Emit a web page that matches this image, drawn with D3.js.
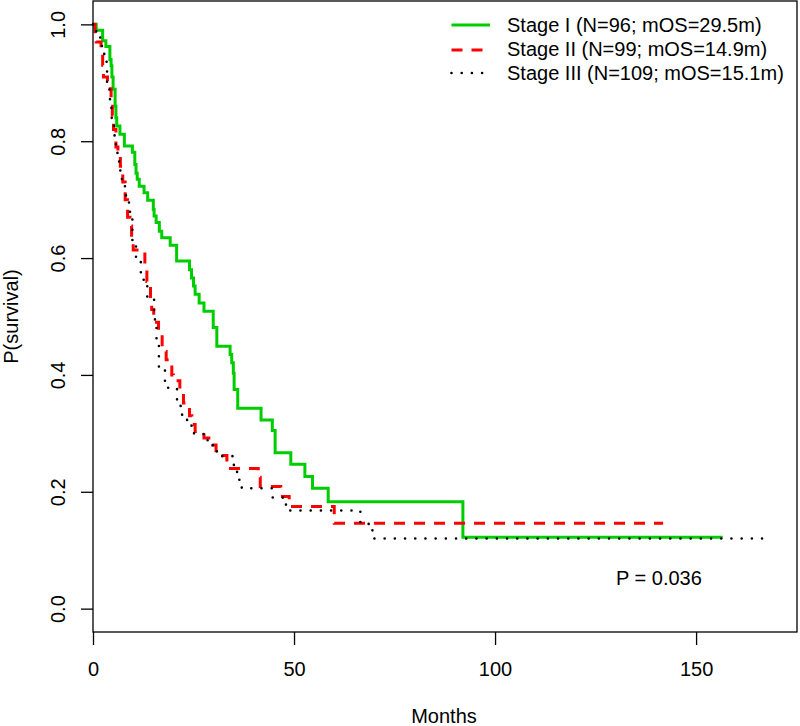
<!DOCTYPE html>
<html>
<head>
<meta charset="utf-8">
<script src="https://cdn.jsdelivr.net/npm/d3@7/dist/d3.min.js"></script>
<style>
  html, body { margin: 0; padding: 0; background: #fff; }
  svg { display: block; }
  text { font-family: "Liberation Sans", Arial, Helvetica, sans-serif; fill: #000; }
</style>
</head>
<body>
<svg id="chart" width="800" height="726"></svg>
<script>
// ---- Data ----
const seriesNames = ["Stage I (N=96; mOS=29.5m)", "Stage II (N=99; mOS=14.9m)", "Stage III (N=109; mOS=15.1m)"];

const stage1Times = [0, 0.8, 2.4, 3.2, 4.2, 4.5, 4.7, 5.0, 5.5, 5.7, 5.9, 6.7, 7.8, 9.8, 10.4, 10.7, 11.0, 11.5, 12.7, 13.6, 15.0, 15.2, 15.7, 16.5, 17.1, 19.2, 20.8, 24.0, 24.5, 25.0, 25.4, 26.4, 27.6, 29.9, 30.8, 34.1, 34.5, 34.9, 35.1, 36.0, 41.8, 44.6, 45.3, 49.2, 52.7, 54.6, 58.5, 92.0, 156.6];
const stage1Surv  = [1, 0.99, 0.972, 0.962, 0.94, 0.929, 0.91, 0.889, 0.86, 0.84, 0.826, 0.812, 0.792, 0.781, 0.76, 0.745, 0.735, 0.723, 0.712, 0.699, 0.683, 0.672, 0.661, 0.646, 0.635, 0.622, 0.595, 0.58, 0.566, 0.552, 0.538, 0.523, 0.509, 0.481, 0.449, 0.435, 0.421, 0.403, 0.375, 0.343, 0.323, 0.305, 0.267, 0.247, 0.226, 0.206, 0.183, 0.122, 0.122];

const stage2Times = [0, 0.5, 0.8, 2.0, 2.4, 2.6, 3.6, 4.5, 4.8, 5.1, 5.7, 6.2, 6.8, 7.4, 8.0, 8.6, 9.2, 9.6, 10.0, 12.9, 13.4, 13.8, 14.3, 14.6, 15.1, 16.3, 17.2, 18.2, 19.6, 20.0, 21.6, 22.5, 24.0, 24.6, 25.4, 27.6, 29.8, 30.6, 33.3, 41.1, 41.6, 46.7, 48.8, 60.0, 141.8];
const stage2Surv  = [1, 0.98, 0.97, 0.96, 0.93, 0.91, 0.89, 0.86, 0.845, 0.82, 0.79, 0.775, 0.757, 0.73, 0.70, 0.67, 0.655, 0.632, 0.614, 0.585, 0.56, 0.551, 0.525, 0.512, 0.49, 0.474, 0.44, 0.426, 0.40, 0.39, 0.365, 0.352, 0.33, 0.315, 0.303, 0.292, 0.28, 0.262, 0.24, 0.225, 0.209, 0.192, 0.175, 0.146, 0.146];

const stage3Times = [0, 0.3, 0.8, 1.8, 2.8, 3.5, 4.1, 4.6, 5.2, 5.7, 6.5, 7.2, 8.2, 9.2, 9.8, 10.7, 11.9, 13.5, 15.2, 15.8, 16.4, 17.9, 20.9, 21.8, 23.4, 24.5, 26.0, 27.5, 28.5, 29.8, 30.8, 34.8, 35.6, 36.4, 37.0, 44.7, 48.0, 49.0, 66.5, 69.5, 166.6];
const stage3Surv  = [1, 0.99, 0.98, 0.963, 0.936, 0.90, 0.872, 0.84, 0.81, 0.78, 0.75, 0.723, 0.695, 0.666, 0.63, 0.60, 0.563, 0.53, 0.495, 0.46, 0.414, 0.378, 0.357, 0.332, 0.315, 0.30, 0.30, 0.29, 0.28, 0.27, 0.261, 0.246, 0.234, 0.22, 0.206, 0.19, 0.175, 0.168, 0.145, 0.12, 0.12];

const xTicks = [0, 50, 100, 150];
const yTicks = [0, 0.2, 0.4, 0.6, 0.8, 1.0];
const yTickLabels = ["0.0", "0.2", "0.4", "0.6", "0.8", "1.0"];
const xLabel = "Months";
const yLabel = "P(survival)";
const pValueText = "P = 0.036";

// ---- Layout ----
const svg = d3.select("#chart");
const plotL = 93, plotR = 797, plotT = 1, plotB = 632;

const x = d3.scaleLinear().domain([0, 175.1]).range([plotL, plotR]);
const y = d3.scaleLinear().domain([-0.04, 1.04]).range([plotB, plotT]);

const styles = [
  { color: "#00CD00", dash: null, width: 3, cap: "butt" },
  { color: "#FF0000", dash: "11,9", width: 3, cap: "butt" },
  { color: "#000000", dash: "0,10.2", width: 2.6, cap: "round" }
];

const series = [
  stage1Times.map((t, i) => ({ t, s: stage1Surv[i] })),
  stage2Times.map((t, i) => ({ t, s: stage2Surv[i] })),
  stage3Times.map((t, i) => ({ t, s: stage3Surv[i] }))
];

const line = d3.line().x(d => x(d.t)).y(d => y(d.s)).curve(d3.curveStepAfter);

series.forEach((data, i) => {
  const st = styles[i];
  const p = svg.append("path")
    .datum(data)
    .attr("d", line)
    .attr("fill", "none")
    .attr("stroke", st.color)
    .attr("stroke-width", st.width)
    .attr("stroke-linecap", st.cap)
    .attr("stroke-linejoin", "miter");
  if (st.dash) p.attr("stroke-dasharray", st.dash);
});

// ---- Box ----
svg.append("rect")
  .attr("x", plotL).attr("y", plotT)
  .attr("width", plotR - plotL).attr("height", plotB - plotT)
  .attr("fill", "none").attr("stroke", "#000").attr("stroke-width", 1.3);

// ---- Axes ----
const xAxis = d3.axisBottom(x).tickValues(xTicks).tickSize(13).tickPadding(0).tickFormat(d3.format("d"));
const gx = svg.append("g").attr("transform", `translate(0,${plotB})`).call(xAxis);
gx.select(".domain").remove();
gx.selectAll(".tick line").attr("stroke", "#000").attr("stroke-width", 1.3);
gx.selectAll(".tick text").attr("y", 44).attr("dy", null).attr("fill", "#000")
  .style("font-size", "20px").style("font-family", "'Liberation Sans', Arial, sans-serif");

const yAxis = d3.axisLeft(y).tickValues(yTicks).tickSize(12).tickFormat((d, i) => yTickLabels[i]);
const gy = svg.append("g").attr("transform", `translate(${plotL},0)`).call(yAxis);
gy.select(".domain").remove();
gy.selectAll(".tick line").attr("stroke", "#000").attr("stroke-width", 1.3);
gy.selectAll(".tick text")
  .attr("x", null).attr("dy", null).attr("fill", "#000")
  .attr("text-anchor", "middle")
  .attr("transform", "translate(-28,0) rotate(-90)")
  .style("font-size", "20px").style("font-family", "'Liberation Sans', Arial, sans-serif");

// ---- Axis titles ----
svg.append("text").attr("x", (plotL + plotR) / 2 - 1).attr("y", 723)
  .attr("text-anchor", "middle").style("font-size", "20px").text(xLabel);
svg.append("text")
  .attr("transform", `translate(18,${(plotT + plotB) / 2}) rotate(-90)`)
  .attr("text-anchor", "middle").style("font-size", "20px").text(yLabel);

// ---- P value ----
svg.append("text").attr("x", 616).attr("y", 585).style("font-size", "20px").text(pValueText);

// ---- Legend ----
const legY = [25, 50, 73];
const legTextY = [32, 56, 80];
seriesNames.forEach((name, i) => {
  const st = styles[i];
  const l = svg.append("line")
    .attr("x1", 451.5).attr("x2", 490).attr("y1", legY[i]).attr("y2", legY[i])
    .attr("stroke", st.color).attr("stroke-width", st.width).attr("stroke-linecap", st.cap);
  if (st.dash) l.attr("stroke-dasharray", st.dash);
  svg.append("text").attr("x", 507).attr("y", legTextY[i]).style("font-size", "20px").text(name);
});
</script>
</body>
</html>
